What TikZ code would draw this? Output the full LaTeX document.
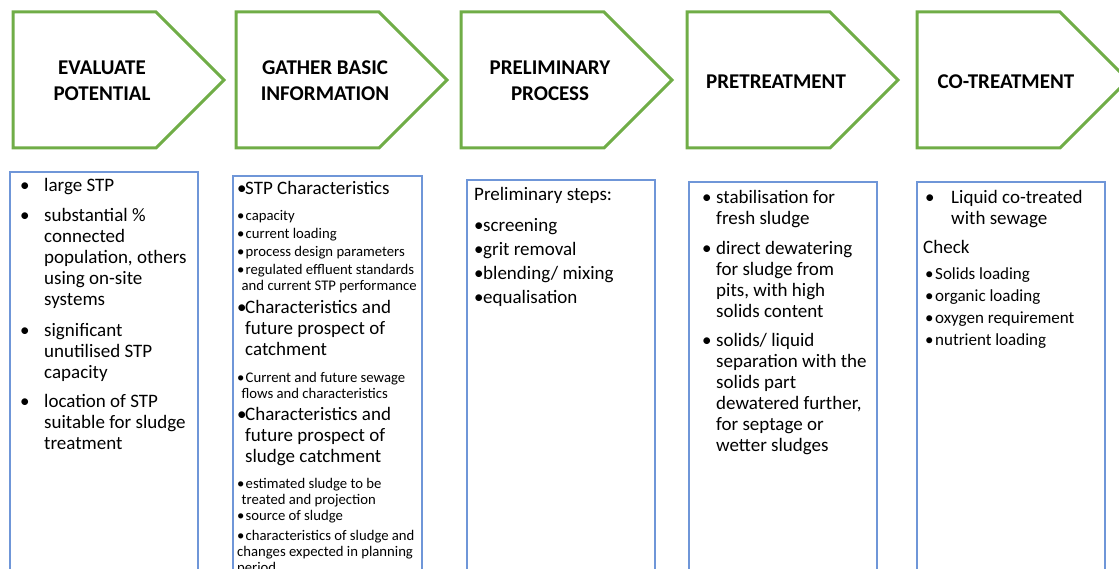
\documentclass[tikz,border=0pt]{standalone}
\usepackage{fontspec}
\setmainfont{Carlito}
\definecolor{chevgreen}{HTML}{70AD47}
\definecolor{boxblue}{HTML}{6F96D8}
\newcommand{\lines}[1]{\begin{tabular}[t]{@{}l@{}}#1\end{tabular}}
\newcommand{\bitem}[2]{\makebox[#1][l]{\textbullet}\lines{#2}}

\begin{document}
\begin{tikzpicture}[x=1pt,y=-1pt,
  chevron/.style={draw=chevgreen,line width=3pt,line join=miter},
  infobox/.style={draw=boxblue,line width=1.2pt},
  title/.style={font=\fontsize{21}{26}\selectfont\bfseries,align=center},
  body/.style={anchor=base west,inner sep=0pt,font=\fontsize{19}{21}\selectfont},
  small/.style={anchor=base west,inner sep=0pt,font=\fontsize{14.7}{16}\selectfont},
  check/.style={anchor=base west,inner sep=0pt,font=\fontsize{17}{21}\selectfont}]
\useasboundingbox (0,0) rectangle (1119,569);
\clip (0,0) rectangle (1119,569);

% steps
\foreach \x in {13,236,461,687,917}
  \draw[chevron] (\x,12) -- ++(143,0) -- ++(68,68) -- ++(-68,68) -- ++(-143,0) -- cycle;
\node[title] (evaluate) at (102,81) {EVALUATE\\POTENTIAL};
\node[title] (gather) at (325,81) {GATHER BASIC\\INFORMATION};
\node[title] (prelim) at (550,81) {PRELIMINARY\\PROCESS};
\node[title] (pretreat) at (776,82) {PRETREATMENT};
\node[title] (cotreat) at (1006,82) {CO-TREATMENT};

% boxes under the steps
\draw[infobox] (10,172) rectangle (198,590);
\draw[infobox] (233,176) rectangle (422,590);
\draw[infobox] (467,180) rectangle (655,590);
\draw[infobox] (689,182) rectangle (877,590);
\draw[infobox] (917,182) rectangle (1105,590);

% evaluate potential
\node[body] (e1) at (20,192) {\bitem{24pt}{large STP}};
\node[body] (e2) at (20,222) {\bitem{24pt}{substantial \%\\connected\\population, others\\using on-site\\systems}};
\node[body] (e3) at (20,336) {\bitem{24pt}{significant\\unutilised STP\\capacity}};
\node[body] (e4) at (20,407) {\bitem{24pt}{location of STP\\suitable for sludge\\treatment}};

% gather basic information
\node[body] (g1) at (237,195) {\bitem{8pt}{STP Characteristics}};
\node[small] (g2) at (237,221) {\bitem{8.5pt}{capacity}};
\node[small] (g3) at (237,238.5) {\bitem{8.5pt}{current loading}};
\node[small] (g4) at (237,256.5) {\bitem{8.5pt}{process design parameters}};
\node[small] (g5) at (237,275) {\bitem{8.5pt}{regulated effluent standards\\\hspace*{-4pt}and current STP performance}};
\node[body] (g6) at (237,313.5) {\bitem{8pt}{Characteristics and\\future prospect of\\catchment}};
\node[small] (g7) at (237,382) {\bitem{8.5pt}{Current and future sewage\\\hspace*{-4pt}flows and characteristics}};
\node[body] (g8) at (237,420) {\bitem{8pt}{Characteristics and\\future prospect of\\sludge catchment}};
\node[small] (g9) at (237,488) {\bitem{8.5pt}{estimated sludge to be\\\hspace*{-4pt}treated and projection}};
\node[small] (g10) at (237,520) {\bitem{8.5pt}{source of sludge}};
\node[small] (g11) at (237,540) {\bitem{8.5pt}{characteristics of sludge and\\\hspace*{-8.5pt}changes expected in planning\\\hspace*{-8.5pt}period}};

% preliminary process
\node[body] (p0) at (474,201) {Preliminary steps:};
\node[body] (p1) at (474,231.5) {\bitem{9pt}{screening}};
\node[body] (p2) at (474,255.5) {\bitem{9pt}{grit removal}};
\node[body] (p3) at (474,279.5) {\bitem{9pt}{blending/ mixing}};
\node[body] (p4) at (474,304) {\bitem{9pt}{equalisation}};

% pretreatment
\node[body] (r1) at (702,203.5) {\bitem{14pt}{stabilisation for\\fresh sludge}};
\node[body] (r2) at (702,255) {\bitem{14pt}{direct dewatering\\for sludge from\\pits, with high\\solids content}};
\node[body] (r3) at (702,346) {\bitem{14pt}{solids/ liquid\\separation with the\\solids part\\dewatered further,\\for septage or\\wetter sludges}};

% co-treatment
\node[body] (c1) at (925,203.5) {\bitem{26pt}{Liquid co-treated\\with sewage}};
\node[body] (c0) at (923,253.5) {Check};
\node[check] (c2) at (925,280) {\bitem{10pt}{Solids loading}};
\node[check] (c3) at (925,301.7) {\bitem{10pt}{organic loading}};
\node[check] (c4) at (925,323.3) {\bitem{10pt}{oxygen requirement}};
\node[check] (c5) at (925,345) {\bitem{10pt}{nutrient loading}};
\end{tikzpicture}
\end{document}
